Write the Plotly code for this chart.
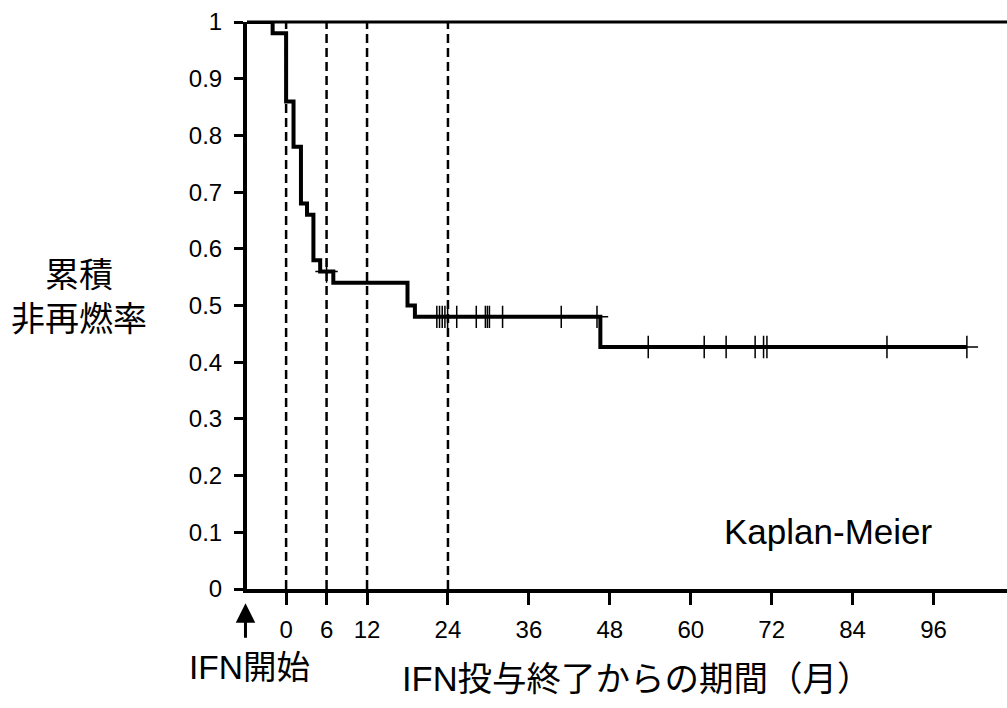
import plotly.graph_objects as go

# ---- data (months since end of IFN therapy, cumulative relapse-free rate) ----
step_months = [-5.8, -2.0, 0.0, 1.1, 2.2, 3.1, 4.05, 5.05, 7.0, 18.0, 19.1, 46.6, 100.95]
step_rates = [1.0, 0.98, 0.86, 0.78, 0.68, 0.66, 0.58, 0.56, 0.54, 0.50, 0.48, 0.4267, 0.4267]

censor_months = [6.0,
                 22.35, 22.75, 23.15, 23.55, 23.95, 25.3, 28.2, 29.55, 29.85, 30.15, 32.1, 40.8, 46.1,
                 53.7, 62.0, 65.25, 69.55, 70.8, 71.3, 89.1, 100.95]
censor_rates = [0.56,
                0.48, 0.48, 0.48, 0.48, 0.48, 0.48, 0.48, 0.48, 0.48, 0.48, 0.48, 0.48, 0.48,
                0.4267, 0.4267, 0.4267, 0.4267, 0.4267, 0.4267, 0.4267, 0.4267]

landmark_months = [0, 6, 12, 24]
x_tick_vals = [0, 6, 12, 24, 36, 48, 60, 72, 84, 96]
y_tick_vals = [0, 0.1, 0.2, 0.3, 0.4, 0.5, 0.6, 0.7, 0.8, 0.9, 1]
y_tick_text = ["0", "0.1", "0.2", "0.3", "0.4", "0.5", "0.6", "0.7", "0.8", "0.9", "1"]

FONT = "Liberation Sans, Arial, Noto Sans CJK JP, sans-serif"

fig = go.Figure()

fig.add_trace(go.Scatter(
    x=step_months, y=step_rates, mode="lines",
    line=dict(color="black", width=4, shape="hv"),
    showlegend=False, hoverinfo="skip"))

fig.add_trace(go.Scatter(
    x=censor_months, y=censor_rates, mode="markers",
    marker=dict(symbol="cross-thin", size=16, line=dict(color="black", width=1.5)),
    showlegend=False, hoverinfo="skip"))

shapes = []
for m in landmark_months:
    shapes.append(dict(type="line", xref="x", yref="y", x0=m, x1=m, y0=0, y1=1,
                       line=dict(color="black", width=2.5, dash="9px,5px")))
shapes.append(dict(type="line", xref="paper", yref="paper", x0=0, x1=1, y0=1, y1=1,
                   line=dict(color="black", width=3)))

annotations = [
    dict(text="累積<br>非再燃率", xref="paper", yref="paper", x=-0.221, y=0.515,
         xanchor="center", yanchor="middle", showarrow=False,
         font=dict(family=FONT, size=34, color="black")),
    dict(text="Kaplan-Meier", xref="x", yref="y", x=80.4, y=0.102,
         xanchor="center", yanchor="middle", showarrow=False,
         font=dict(family=FONT, size=35, color="black")),
    dict(text="IFN開始", xref="paper", yref="paper", x=-0.079, y=-0.139,
         xanchor="left", yanchor="middle", showarrow=False,
         font=dict(family=FONT, size=33.5, color="black")),
    dict(text="IFN投与終了からの期間（月）", xref="paper", yref="paper", x=0.513, y=-0.159,
         xanchor="center", yanchor="middle", showarrow=False,
         font=dict(family=FONT, size=34.5, color="black")),
    dict(text=" ", xref="paper", yref="paper", x=-0.002, y=-0.025, ax=0, ay=37,
         showarrow=True, arrowhead=2, arrowwidth=3, arrowsize=1.3, arrowcolor="black",
         standoff=0, startstandoff=0, font=dict(size=2)),
]

fig.update_layout(
    width=1007, height=708,
    margin=dict(l=247, r=0, t=22, b=119),
    paper_bgcolor="white", plot_bgcolor="white",
    shapes=shapes, annotations=annotations,
    font=dict(family=FONT, size=24, color="black"),
    xaxis=dict(range=[-5.8, 106.9], tickvals=x_tick_vals, ticks="outside", ticklen=12,
               tickwidth=3, tickcolor="black", showline=True, linewidth=4, linecolor="black",
               showgrid=False, zeroline=False, tickfont=dict(size=24, family=FONT),
               ticklabelstandoff=4),
    yaxis=dict(range=[0, 1], tickvals=y_tick_vals, ticktext=y_tick_text, ticks="outside",
               ticklen=9, tickwidth=3, tickcolor="black", showline=True, linewidth=4,
               linecolor="black", showgrid=False, zeroline=False,
               tickfont=dict(size=24, family=FONT), ticklabelstandoff=7),
)

fig.write_html("out.html", config={"displayModeBar": False},
               post_script="document.body.style.margin='0';")
